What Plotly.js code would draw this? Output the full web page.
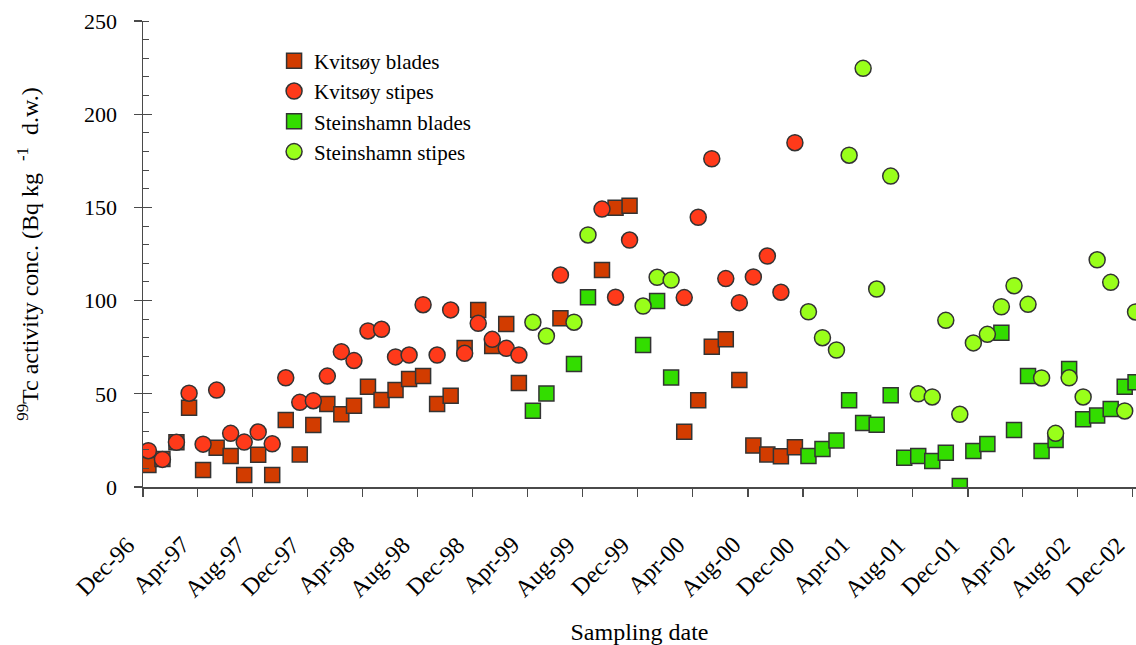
<!DOCTYPE html>
<html>
<head>
<meta charset="utf-8">
<script src="https://cdn.plot.ly/plotly-3.0.1.min.js"></script>
<style>html,body{margin:0;padding:0;background:#fff}#chart{width:1136px;height:645px}</style>
</head>
<body>
<div id="chart"></div>
<script>
// Kvitsøy blades
const kvBladesDates = ["1996-12-13","1997-01-13","1997-02-13","1997-03-13","1997-04-13","1997-05-13","1997-06-13","1997-07-13","1997-08-13","1997-09-13","1997-10-13","1997-11-13","1997-12-13","1998-01-13","1998-02-13","1998-03-13","1998-04-13","1998-05-13","1998-06-13","1998-07-13","1998-08-13","1998-09-13","1998-10-13","1998-11-13","1998-12-13","1999-01-13","1999-02-13","1999-03-13","1999-06-13","1999-09-13","1999-10-13","1999-11-13","2000-03-13","2000-04-13","2000-05-13","2000-06-13","2000-07-13","2000-08-13","2000-09-13","2000-10-13","2000-11-13"];
const kvBladesValues = [11.8,15,24,42.5,9.1,21,16.6,6.4,17.3,6.4,36,17.5,33.3,44.5,39,43.6,53.8,46.7,52,58,59.5,44.5,49,74.6,94.9,75.6,87.4,55.8,90.5,116.4,149.8,150.9,29.7,46.5,75.3,79.2,57.4,22.2,17.5,16.5,21.3];

// Kvitsøy stipes
const kvStipesDates = ["1996-12-13","1997-01-13","1997-02-13","1997-03-13","1997-04-13","1997-05-13","1997-06-13","1997-07-13","1997-08-13","1997-09-13","1997-10-13","1997-11-13","1997-12-13","1998-01-13","1998-02-13","1998-03-13","1998-04-13","1998-05-13","1998-06-13","1998-07-13","1998-08-13","1998-09-13","1998-10-13","1998-11-13","1998-12-13","1999-01-13","1999-02-13","1999-03-13","1999-06-13","1999-09-13","1999-10-13","1999-11-13","2000-03-13","2000-04-13","2000-05-13","2000-06-13","2000-07-13","2000-08-13","2000-09-13","2000-10-13","2000-11-13"];
const kvStipesValues = [19.5,14.8,24,50.3,23,52,28.8,24.1,29.5,23.2,58.6,45.4,46.3,59.5,72.6,67.8,83.7,84.6,69.8,70.8,97.8,70.8,95,71.7,87.8,79.2,74.4,70.8,113.7,149.1,101.8,132.5,101.6,144.7,176.1,111.8,98.9,112.7,123.9,104.5,184.7];

// Steinshamn blades
const stBladesDates = ["1999-04-13","1999-05-13","1999-07-13","1999-08-13","1999-12-13","2000-01-13","2000-02-13","2000-12-13","2001-01-13","2001-02-13","2001-03-13","2001-04-13","2001-05-13","2001-06-13","2001-07-13","2001-08-13","2001-09-13","2001-10-13","2001-11-13","2001-12-13","2002-01-13","2002-02-13","2002-03-13","2002-04-13","2002-05-13","2002-06-13","2002-07-13","2002-08-13","2002-09-13","2002-10-13","2002-11-13","2002-12-07"];
const stBladesValues = [40.9,50.2,66,101.8,76.2,99.8,58.7,16.6,20.4,25,46.5,34.3,33.4,49.2,15.7,16.6,13.9,18.4,0.5,19.3,23.1,82.8,30.6,59.5,19.3,25.2,63.3,36.3,38.3,41.8,53.8,56.2];

// Steinshamn stipes
const stStipesDates = ["1999-04-13","1999-05-13","1999-07-13","1999-08-13","1999-12-13","2000-01-13","2000-02-13","2000-12-13","2001-01-13","2001-02-13","2001-03-13","2001-04-13","2001-05-13","2001-06-13","2001-08-13","2001-09-13","2001-10-13","2001-11-13","2001-12-13","2002-01-13","2002-02-13","2002-03-13","2002-04-13","2002-05-13","2002-06-13","2002-07-13","2002-08-13","2002-09-13","2002-10-13","2002-11-13","2002-12-07"];
const stStipesValues = [88.4,81,88.4,135.2,97.1,112.5,111,94,80.1,73.5,178,224.6,106.2,166.8,50,48.3,89.4,39,77.3,81.9,96.7,108,98,58.5,28.8,58.6,48.3,121.9,109.8,40.8,93.9];

// x tick labels
const tickDates = ["1996-12-01","1997-04-01","1997-08-01","1997-12-01","1998-04-01","1998-08-01","1998-12-01","1999-04-01","1999-08-01","1999-12-01","2000-04-01","2000-08-01","2000-12-01","2001-04-01","2001-08-01","2001-12-01","2002-04-01","2002-08-01","2002-12-01"];
const tickLabels = ["Dec-96","Apr-97","Aug-97","Dec-97","Apr-98","Aug-98","Dec-98","Apr-99","Aug-99","Dec-99","Apr-00","Aug-00","Dec-00","Apr-01","Aug-01","Dec-01","Apr-02","Aug-02","Dec-02"];

const seriesNames = ["Kvitsøy blades","Kvitsøy stipes","Steinshamn blades","Steinshamn stipes"];
const seriesColors = ["#d23c00","#ff3a1a","#33dd00","#99ff1a"];
const seriesSymbols = ["square","circle","square","circle"];
const seriesX = [kvBladesDates, kvStipesDates, stBladesDates, stStipesDates];
const seriesY = [kvBladesValues, kvStipesValues, stBladesValues, stStipesValues];

const FONT = "Liberation Serif, Times New Roman, serif";
const AX = "#4a4a4a";

const traces = seriesNames.map((n,i)=>({
  type:"scatter", mode:"markers", name:n, x:seriesX[i], y:seriesY[i],
  legendgroup:"g"+i, cliponaxis:true,
  marker:{symbol:seriesSymbols[i], size:seriesSymbols[i]==="square"?15:16, color:seriesColors[i], line:{color:"#333", width:1.5}}
}));
traces.push({type:"scatter", x:[], y:[], yaxis:"y2", showlegend:false, hoverinfo:"skip"});

const tickAnnotations = tickDates.map((d,i)=>({
  x:d, xref:"x", y:0, yref:"paper", text:tickLabels[i], showarrow:false,
  textangle:-45, xanchor:"right", yanchor:"top", xshift:0, yshift:-42,
  font:{family:FONT, size:24, color:"#000"}
}));

const layout = {
  width:1136, height:645,
  margin:{l:143, r:0, t:21, b:158},
  paper_bgcolor:"#fff", plot_bgcolor:"#fff",
  font:{family:FONT, color:"#000", size:18},
  showlegend:true,
  legend:{x:0.132, y:0.958, xanchor:"left", yanchor:"top", bgcolor:"rgba(0,0,0,0)",
          font:{family:FONT, size:21, color:"#000"}, traceorder:"grouped", tracegroupgap:0},
  annotations:tickAnnotations,
  xaxis:{type:"date", range:["1996-12-01","2002-12-08"], tick0:"1996-12-01", dtick:"M4",
         showticklabels:false, ticks:"outside", ticklen:8, tickwidth:1.2, tickcolor:AX,
         showline:true, linecolor:AX, linewidth:1.5, showgrid:false, zeroline:false,
         title:{text:"Sampling date", font:{family:FONT, size:24}, standoff:129}},
  yaxis:{range:[0,250], tick0:0, dtick:50, ticks:"outside", ticklen:8, tickwidth:1.2, tickcolor:AX,
         minor:{dtick:10, tick0:0, ticks:"inside", ticklen:6, tickwidth:1, tickcolor:AX},
         showline:true, linecolor:AX, linewidth:1.5, showgrid:false, zeroline:false,
         tickfont:{family:FONT, size:22}, ticklabelstandoff:12,
         title:{text:"<sup>99</sup>Tc activity conc. (Bq kg  <sup>-1</sup>  d.w.)", font:{family:FONT, size:24}, standoff:38}},
  yaxis2:{overlaying:"y", side:"left", range:[0,250], tick0:0, dtick:50, ticks:"inside", ticklen:9, tickwidth:1.2,
          tickcolor:AX, showticklabels:false, showline:false, showgrid:false, zeroline:false}
};

Plotly.newPlot("chart", traces, layout, {displayModeBar:false, staticPlot:true});
</script>
</body>
</html>
